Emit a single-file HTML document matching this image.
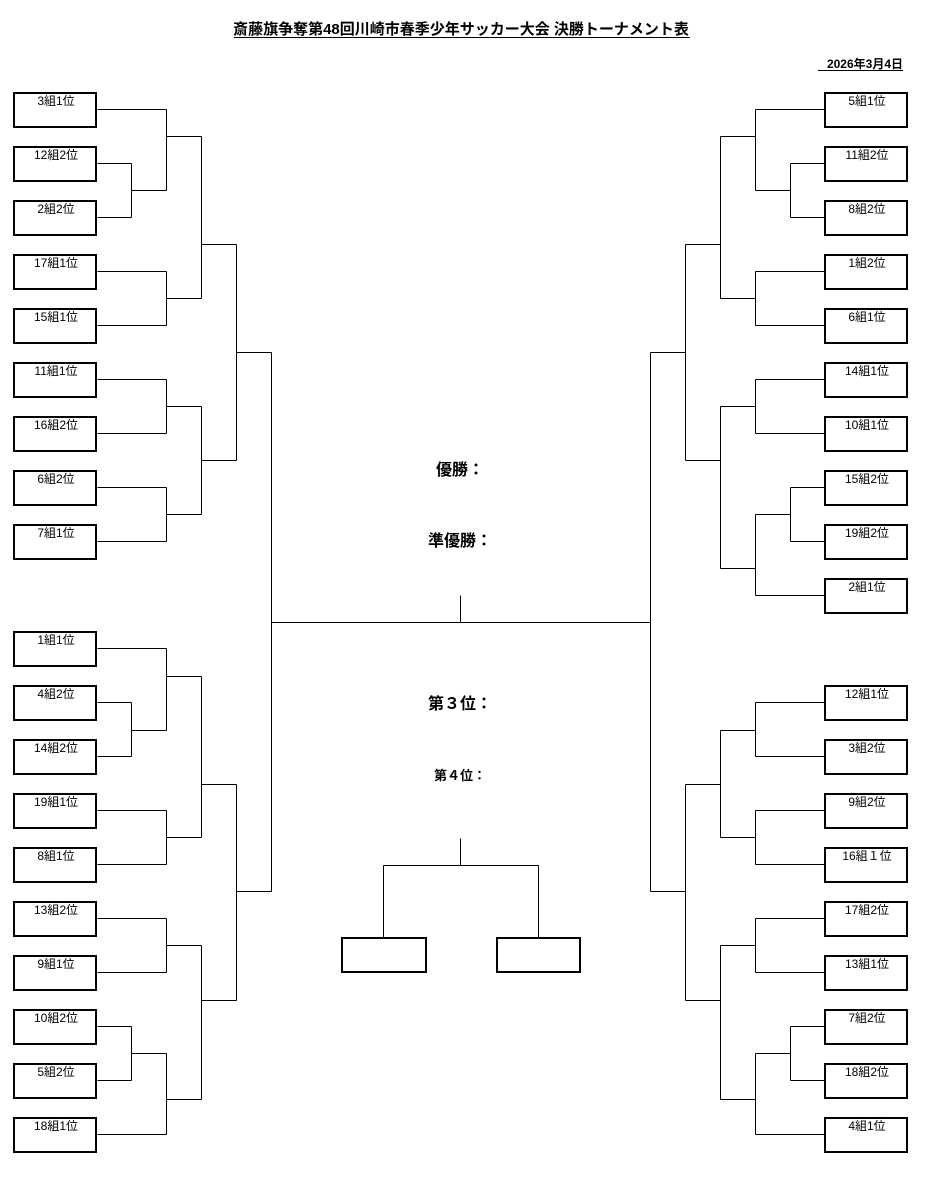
<!DOCTYPE html>
<html><head><meta charset="utf-8"><style>
html,body{margin:0;padding:0;background:#fff;}
svg{display:block;}
text{font-family:"Liberation Sans","Noto Sans CJK JP",sans-serif;fill:#000;}
.b{font-size:12px;text-anchor:middle;}
</style></head><body>
<svg width="925" height="1180" viewBox="0 0 925 1180" xmlns="http://www.w3.org/2000/svg">
<text x="461" y="34" font-size="15" font-weight="bold" text-anchor="middle">斎藤旗争奪第48回川崎市春季少年サッカー大会 決勝トーナメント表</text>
<line x1="234" y1="37.5" x2="690" y2="37.5" stroke="#000" stroke-width="1"/>
<text x="903" y="68" font-size="12" font-weight="bold" text-anchor="end">2026年3月4日</text>
<line x1="818" y1="70.5" x2="903" y2="70.5" stroke="#000" stroke-width="1"/>
<text x="460" y="475" font-size="16" font-weight="bold" text-anchor="middle">優勝：</text>
<text x="460" y="546" font-size="16" font-weight="bold" text-anchor="middle">準優勝：</text>
<text x="460" y="709" font-size="16" font-weight="bold" text-anchor="middle">第３位：</text>
<text x="460" y="780" font-size="13" font-weight="bold" text-anchor="middle">第４位：</text>
<g transform="translate(0.5,0.5)" fill="none" stroke="#000" stroke-width="1" shape-rendering="crispEdges">
<path d="M97 109H166 M97 163H131 M97 217H131 M131 163V217 M131 190H166 M166 109V190 M166 136H201
M97 271H166 M97 325H166 M166 271V325 M166 298H201 M201 136V298 M201 244H236
M97 379H166 M97 433H166 M166 379V433 M166 406H201
M97 487H166 M97 541H166 M166 487V541 M166 514H201 M201 406V514 M201 460H236
M236 244V460 M236 352H271
M97 648H166 M97 702H131 M97 756H131 M131 702V756 M131 730H166 M166 648V730 M166 676H201
M97 810H166 M97 864H166 M166 810V864 M166 837H201 M201 676V837 M201 784H236
M97 918H166 M97 972H166 M166 918V972 M166 945H201
M97 1026H131 M97 1080H131 M131 1026V1080 M131 1053H166 M97 1134H166 M166 1053V1134 M166 1099H201 M201 945V1099 M201 1000H236
M236 784V1000 M236 891H271 M271 352V891 M271 622H650 M460 595V622
M824 109H755 M824 163H790 M824 217H790 M790 163V217 M790 190H755 M755 109V190 M755 136H720
M824 271H755 M824 325H755 M755 271V325 M755 298H720 M720 136V298 M720 244H685
M824 379H755 M824 433H755 M755 379V433 M755 406H720
M824 487H790 M824 541H790 M790 487V541 M790 514H755 M824 595H755 M755 514V595 M755 568H720 M720 406V568 M720 460H685
M685 244V460 M685 352H650
M824 702H755 M824 756H755 M755 702V756 M755 730H720
M824 810H755 M824 864H755 M755 810V864 M755 837H720 M720 730V837 M720 784H685
M824 918H755 M824 972H755 M755 918V972 M755 945H720
M824 1026H790 M824 1080H790 M790 1026V1080 M790 1053H755 M824 1134H755 M755 1053V1134 M755 1099H720 M720 945V1099 M720 1000H685
M685 784V1000 M685 891H650 M650 352V891
M460 838V865 M383 865H538 M383 865V937 M538 865V937"/>
</g>
<g fill="none" stroke="#000" stroke-width="2">
<rect x="342" y="938" width="84" height="34"/>
<rect x="497" y="938" width="83" height="34"/>
</g>
<g fill="none" stroke="#000" stroke-width="2">
<rect x="14" y="93" width="82" height="34"/><rect x="14" y="147" width="82" height="34"/><rect x="14" y="201" width="82" height="34"/>
<rect x="14" y="255" width="82" height="34"/><rect x="14" y="309" width="82" height="34"/><rect x="14" y="363" width="82" height="34"/>
<rect x="14" y="417" width="82" height="34"/><rect x="14" y="471" width="82" height="34"/><rect x="14" y="525" width="82" height="34"/>
<rect x="14" y="632" width="82" height="34"/><rect x="14" y="686" width="82" height="34"/><rect x="14" y="740" width="82" height="34"/>
<rect x="14" y="794" width="82" height="34"/><rect x="14" y="848" width="82" height="34"/><rect x="14" y="902" width="82" height="34"/>
<rect x="14" y="956" width="82" height="34"/><rect x="14" y="1010" width="82" height="34"/><rect x="14" y="1064" width="82" height="34"/>
<rect x="14" y="1118" width="82" height="34"/>
<rect x="825" y="93" width="82" height="34"/><rect x="825" y="147" width="82" height="34"/><rect x="825" y="201" width="82" height="34"/>
<rect x="825" y="255" width="82" height="34"/><rect x="825" y="309" width="82" height="34"/><rect x="825" y="363" width="82" height="34"/>
<rect x="825" y="417" width="82" height="34"/><rect x="825" y="471" width="82" height="34"/><rect x="825" y="525" width="82" height="34"/>
<rect x="825" y="579" width="82" height="34"/>
<rect x="825" y="686" width="82" height="34"/><rect x="825" y="740" width="82" height="34"/><rect x="825" y="794" width="82" height="34"/>
<rect x="825" y="848" width="82" height="34"/><rect x="825" y="902" width="82" height="34"/><rect x="825" y="956" width="82" height="34"/>
<rect x="825" y="1010" width="82" height="34"/><rect x="825" y="1064" width="82" height="34"/><rect x="825" y="1118" width="82" height="34"/>
</g>
<g>
<text class="b" x="56" y="105">3組1位</text><text class="b" x="56" y="159">12組2位</text><text class="b" x="56" y="213">2組2位</text>
<text class="b" x="56" y="267">17組1位</text><text class="b" x="56" y="321">15組1位</text><text class="b" x="56" y="375">11組1位</text>
<text class="b" x="56" y="429">16組2位</text><text class="b" x="56" y="483">6組2位</text><text class="b" x="56" y="537">7組1位</text>
<text class="b" x="56" y="644">1組1位</text><text class="b" x="56" y="698">4組2位</text><text class="b" x="56" y="752">14組2位</text>
<text class="b" x="56" y="806">19組1位</text><text class="b" x="56" y="860">8組1位</text><text class="b" x="56" y="914">13組2位</text>
<text class="b" x="56" y="968">9組1位</text><text class="b" x="56" y="1022">10組2位</text><text class="b" x="56" y="1076">5組2位</text>
<text class="b" x="56" y="1130">18組1位</text>
<text class="b" x="867" y="105">5組1位</text><text class="b" x="867" y="159">11組2位</text><text class="b" x="867" y="213">8組2位</text>
<text class="b" x="867" y="267">1組2位</text><text class="b" x="867" y="321">6組1位</text><text class="b" x="867" y="375">14組1位</text>
<text class="b" x="867" y="429">10組1位</text><text class="b" x="867" y="483">15組2位</text><text class="b" x="867" y="537">19組2位</text>
<text class="b" x="867" y="591">2組1位</text>
<text class="b" x="867" y="698">12組1位</text><text class="b" x="867" y="752">3組2位</text><text class="b" x="867" y="806">9組2位</text>
<text class="b" x="867" y="860">16組１位</text><text class="b" x="867" y="914">17組2位</text><text class="b" x="867" y="968">13組1位</text>
<text class="b" x="867" y="1022">7組2位</text><text class="b" x="867" y="1076">18組2位</text><text class="b" x="867" y="1130">4組1位</text>
</g>
</svg>
</body></html>
